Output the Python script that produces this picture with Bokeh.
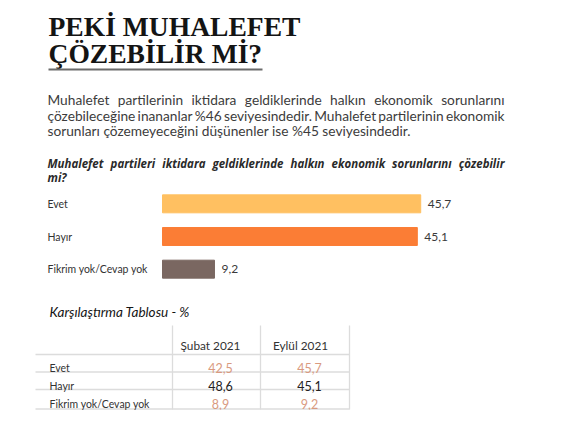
import glob
import os

from bokeh.core.properties import value
from bokeh.embed import file_html
from bokeh.layouts import column
from bokeh.models import FactorRange, Range1d
from bokeh.plotting import figure
from bokeh.resources import INLINE

try:
    from PIL import ImageFont
except Exception:  # pragma: no cover
    ImageFont = None

# ---------------- data ----------------
title_lines = ["PEKİ MUHALEFET", "ÇÖZEBİLİR Mİ?"]
paragraph_lines = [
    "Muhalefet partilerinin iktidara geldiklerinde halkın ekonomik sorunlarını",
    "çözebileceğine inananlar %46 seviyesindedir. Muhalefet partilerinin ekonomik",
    "sorunları çözemeyeceğini düşünenler ise %45 seviyesindedir.",
]
question_lines = [
    "Muhalefet partileri iktidara geldiklerinde halkın ekonomik sorunlarını çözebilir",
    "mi?",
]
categories = ["Evet", "Hayır", "Fikrim yok/Cevap yok"]
eylul_2021 = [45.7, 45.1, 9.2]
subat_2021 = [42.5, 48.6, 8.9]
table_title = "Karşılaştırma Tablosu - %"
table_columns = ["Şubat 2021", "Eylül 2021"]

# ---------------- styles ----------------
bar_colors = ["#FFC061", "#FB7D35", "#7A6761"]
table_value_colors = ["#D99A7F", "#222222", "#D99A7F"]
SANS = "Lato"
SERIF = "Liberation Serif"

W = 564
H_HEAD, H_BAR, H_TAB = 187, 98, 125

FONT_DIRS = ["/usr/share/fonts", "/usr/local/share/fonts",
             os.path.expanduser("~/.fonts"), os.path.expanduser("~/.local/share/fonts")]
_font_cache = {}

SERIF_BOLD = ["LiberationSerif-Bold.ttf"]
LATO_REG = ["Lato-Regular.ttf", "Lato-Regular.*"]
LATO_IT = ["Lato-Italic.ttf", "Lato-Italic.*", "Lato-Regular.ttf"]
OS_BI = ["OpenSans-BoldItalic.ttf", "OpenSans-BoldItalic.*", "OpenSans-Italic*wght*.ttf"]
LATO_BI = ["Lato-BoldItalic.ttf", "Lato-BoldItalic.*", "Lato-Bold.ttf", "Lato-Bold.*"]


def font_file(patterns):
    key = tuple(patterns)
    if key in _font_cache:
        return _font_cache[key]
    hit = None
    for pat in patterns:
        for d in FONT_DIRS:
            if os.path.isdir(d):
                res = sorted(glob.glob(os.path.join(d, "**", pat), recursive=True))
                if res:
                    hit = res[0]
                    break
        if hit:
            break
    _font_cache[key] = hit
    return hit


def text_width(text, patterns, size, fallback=0.52):
    path = font_file(patterns)
    if ImageFont is not None and path:
        try:
            f = ImageFont.truetype(path, 200)
            return f.getlength(text) * size / 200.0
        except Exception:
            pass
    return len(text) * size * fallback


def fit_size(text, patterns, target, default):
    w = text_width(text, patterns, default)
    return default * target / w if w > 0 else default


def justify(line, patterns, size, x0, x1):
    words = line.split()
    widths = [text_width(w, patterns, size) for w in words]
    gap = (x1 - x0 - sum(widths)) / max(len(words) - 1, 1)
    if gap < 0.15 * size:
        return [line], [x0]
    xs, x = [], x0
    for w in widths:
        xs.append(x)
        x += w + gap
    return words, xs


def canvas(h, xr=None, yr=None):
    p = figure(width=W, height=h, output_backend="svg", toolbar_location=None,
               x_range=xr if xr is not None else Range1d(0, W),
               y_range=yr if yr is not None else Range1d(h, 0),
               x_axis_location=None, y_axis_location=None,
               min_border=0, outline_line_color=None)
    p.grid.visible = False
    p.background_fill_color = "white"
    p.border_fill_color = "white"
    return p


# ---------------- header ----------------
head = canvas(H_HEAD)
ts = fit_size(title_lines[0], SERIF_BOLD, 252, 27)
head.text(x=[48, 48], y=[26, 53], text=title_lines, text_font=value(SERIF),
          text_font_style="bold", text_font_size=f"{ts:.2f}px",
          text_color="#141414", text_baseline="alphabetic", text_align="left")
head.segment(x0=[48], y0=[69], x1=[262], y1=[69], line_color="#6b6b6b", line_width=2)

ps = fit_size(paragraph_lines[2], LATO_REG, 363, 12)
for i, line in enumerate(paragraph_lines):
    if i < len(paragraph_lines) - 1:
        words, xs = justify(line, LATO_REG, ps, 47, 504)
    else:
        words, xs = [line], [47]
    head.text(x=xs, y=[99 + i * 15.6] * len(words), text=words, text_font=value(SANS),
              text_font_size=f"{ps:.2f}px", text_color="#3c3c3c",
              text_baseline="alphabetic", text_align="left")

if font_file(OS_BI):
    q_font, q_pat = "Open Sans", OS_BI
else:
    q_font, q_pat = SANS, LATO_BI
qs = min(12.0, fit_size(question_lines[0], q_pat, 428, 11))
for i, line in enumerate(question_lines):
    if i < len(question_lines) - 1:
        words, xs = justify(line, q_pat, qs, 47, 504)
    else:
        words, xs = [line], [47]
    head.text(x=xs, y=[163 + i * 14] * len(words), text=words, text_font=value(q_font),
              text_font_style="bold italic", text_font_size=f"{qs:.2f}px",
              text_color="#2a2a2a", text_baseline="alphabetic", text_align="left")

# ---------------- bars ----------------
PX_PER_UNIT = 5.65
BAR_LEFT_PX = 162
LABEL_LEFT_PX = 47
bars = canvas(H_BAR,
              xr=Range1d(-BAR_LEFT_PX / PX_PER_UNIT, (W - BAR_LEFT_PX) / PX_PER_UNIT),
              yr=FactorRange(factors=categories[::-1], range_padding=0))
bars.hbar(y=categories, left=0, right=eylul_2021, height=0.55, color=bar_colors)
cs = fit_size(categories[2], LATO_REG, 100, 10.5)
bars.text(x=[-(BAR_LEFT_PX - LABEL_LEFT_PX) / PX_PER_UNIT] * len(categories), y=categories,
          text=categories, text_font=value(SANS), text_font_size=f"{cs:.2f}px",
          text_color="#333333", text_baseline="middle", text_align="left")
bars.text(x=eylul_2021, y=categories, text=[f"{v:.1f}".replace(".", ",") for v in eylul_2021],
          x_offset=7, text_font=value(SANS), text_font_size="12px",
          text_color="#3a3a3a", text_baseline="middle", text_align="left")

# ---------------- table ----------------
tab = canvas(H_TAB)
tts = fit_size(table_title, LATO_IT, 140, 11.5)
tab.text(x=[49], y=[26], text=[table_title], text_font=value(SANS), text_font_style="italic",
         text_font_size=f"{tts:.2f}px", text_color="#151515", text_baseline="alphabetic")

grid_col = "#dcdcdc"
tab.segment(x0=[172, 260, 349], y0=[40, 40, 40], x1=[172, 260, 349], y1=[124, 124, 124],
            line_color=grid_col, line_width=1.3)
tab.segment(x0=[35] * 4, y0=[69, 86.5, 104, 123.5], x1=[349] * 4, y1=[69, 86.5, 104, 123.5],
            line_color=grid_col, line_width=1.3)

hs = fit_size(table_columns[0], LATO_REG, 60, 11)
tab.text(x=[210, 300], y=[60, 60], text=table_columns, text_font=value(SANS),
         text_font_size=f"{hs:.2f}px", text_color="#333333", text_baseline="alphabetic",
         text_align="center")
row_y = [82, 100, 118]
tab.text(x=[49] * len(categories), y=row_y, text=categories, text_font=value(SANS),
         text_font_size=f"{cs:.2f}px", text_color="#333333", text_baseline="alphabetic")
for cx, vals in [(220, subat_2021), (309, eylul_2021)]:
    tab.text(x=[cx] * len(vals), y=row_y, text=[f"{v:.1f}".replace(".", ",") for v in vals],
             text_font=value(SANS), text_font_size="12.5px", text_color=table_value_colors,
             text_baseline="alphabetic", text_align="center")

layout = column(head, bars, tab, spacing=0)
with open("out.html", "w") as f:
    f.write(file_html(layout, INLINE))
